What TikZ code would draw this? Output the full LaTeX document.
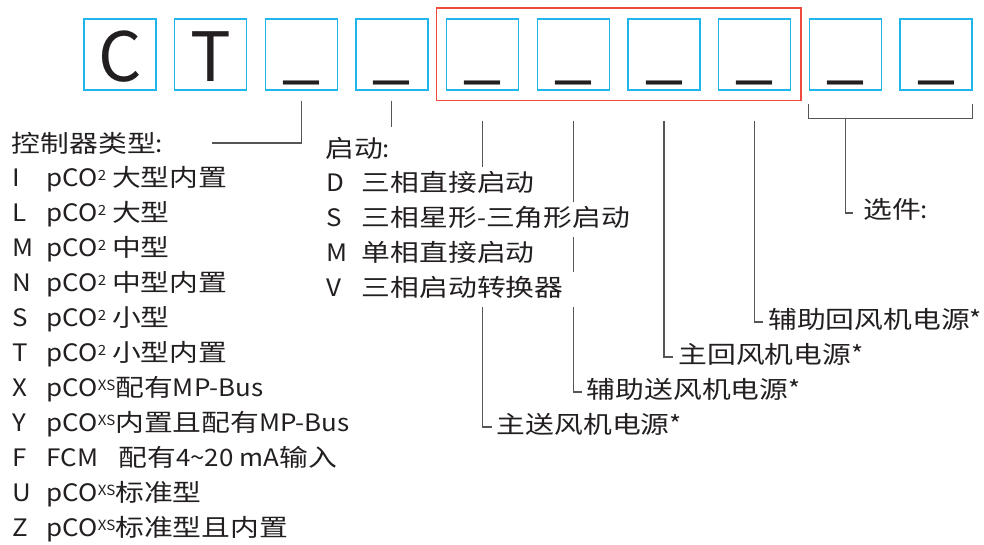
\documentclass[tikz,border=0pt]{standalone}
\usepackage{fontspec}
\setmainfont{Noto Sans CJK SC}[FakeStretch=1.08]
\newfontfamily\cjkfont{Noto Sans CJK SC}[FakeStretch=1.2]
\newfontfamily\slotfont{Noto Sans CJK SC}
\usetikzlibrary{fit}
\definecolor{ink}{HTML}{231F20}
\definecolor{slotblue}{HTML}{1FB6EC}
\definecolor{groupred}{HTML}{EE4B3E}
\definecolor{wire}{HTML}{555555}
\newcommand{\zh}[1]{{\cjkfont #1}}
\newcommand{\sps}[1]{\raisebox{6pt}{\fontsize{14}{14}\selectfont #1}}
\newcommand{\blank}{\raisebox{6.5pt}{\_}}

\begin{document}
\begin{tikzpicture}[x=1pt,y=-1pt,
	slot/.style={draw=slotblue,line width=1.4pt,minimum width=72pt,minimum height=71pt,inner sep=0pt,
		text height=54.8pt,text depth=0pt,font=\slotfont\fontsize{68}{68}\selectfont,text=ink},
	item/.style={anchor=base west,inner sep=0pt,font=\fontsize{24}{24}\selectfont,text=ink},
	start/.style={item,fill=white,inner xsep=12pt,inner ysep=5pt,text height=20pt,text depth=5pt},
	power/.style={item,inner xsep=5pt},
	wireline/.style={draw=wire,line width=1.1pt}]
	\useasboundingbox (0,0) rectangle (984,544);

	%boxes
	\foreach \s [count=\i] in {C,T,\blank,\blank,\blank,\blank,\blank,\blank,\blank,\blank}
		\node[slot] (b\i) at ({119.8+90.7*(\i-1)},54.3) {\s};
	\node[draw=groupred,line width=1.3pt,fit=(b5)(b8),inner xsep=9.5pt,inner ysep=10pt] (grp) {};

	%controller type
	\node[item] (ctype) at (11.7,152) {\zh{控制器类型}:};
	\foreach \k/\t [count=\i from 0] in {
		I/{pCO\sps{2} \zh{大型内置}},
		L/{pCO\sps{2} \zh{大型}},
		M/{pCO\sps{2} \zh{中型}},
		N/{pCO\sps{2} \zh{中型内置}},
		S/{pCO\sps{2} \zh{小型}},
		T/{pCO\sps{2} \zh{小型内置}},
		X/{pCO\sps{XS}\zh{配有}MP-Bus},
		Y/{pCO\sps{XS}\zh{内置且配有}MP-Bus},
		F/{FCM\hspace{20pt}\zh{配有}4\textasciitilde 20 mA\zh{输入}},
		U/{pCO\sps{XS}\zh{标准型}},
		Z/{pCO\sps{XS}\zh{标准型且内置}}}{
		\node[item] (ck\i) at (12,{186.7+35*\i}) {\k};
		\node[item] (ct\i) at (46.7,{186.7+35*\i}) {\t};
	}

	%fan power and options
	\node[power] (p5) at (491.7,433) {\zh{主送风机电源}*};
	\node[power] (p6) at (581.7,398) {\zh{辅助送风机电源}*};
	\node[power] (p7) at (673.3,363) {\zh{主回风机电源}*};
	\node[power] (p8) at (763,328) {\zh{辅助回风机电源}*};
	\node[item,inner xsep=10pt] (opt) at (853,218) {\zh{选件}:};

	%lines
	\coordinate (ctend) at (212,143);
	\draw[wireline] ([yshift=-10pt]b3.south) |- (ctend);
	\draw[wireline] ([yshift=-10pt]b4.south) -- ([yshift=-36pt]b4.south);
	\foreach \i in {5,...,8}
		\draw[wireline] ([yshift=-30pt]b\i.south) |- ([yshift=6pt]p\i.base west);
	\draw[wireline] ([yshift=-13pt]b9.south west) -- ([yshift=-28pt]b9.south west)
		-- ([yshift=-28pt]b10.south east) -- ([yshift=-13pt]b10.south east);
	\draw[wireline] ([yshift=-28pt]b9.south) |- ([yshift=5pt]opt.base west);

	%starting
	\node[item] (stype) at (325,157) {\zh{启动}:};
	\foreach \k/\t [count=\i from 0] in {
		D/\zh{三相直接启动},
		S/{\zh{三相星形}-\zh{三角形启动}},
		M/\zh{单相直接启动},
		V/\zh{三相启动转换器}}{
		\node[item] (sk\i) at (326.7,{191.7+35*\i}) {\k};
		\node[start] (st\i) at (349.7,{191.7+35*\i}) {\t};
	}
\end{tikzpicture}
\end{document}
